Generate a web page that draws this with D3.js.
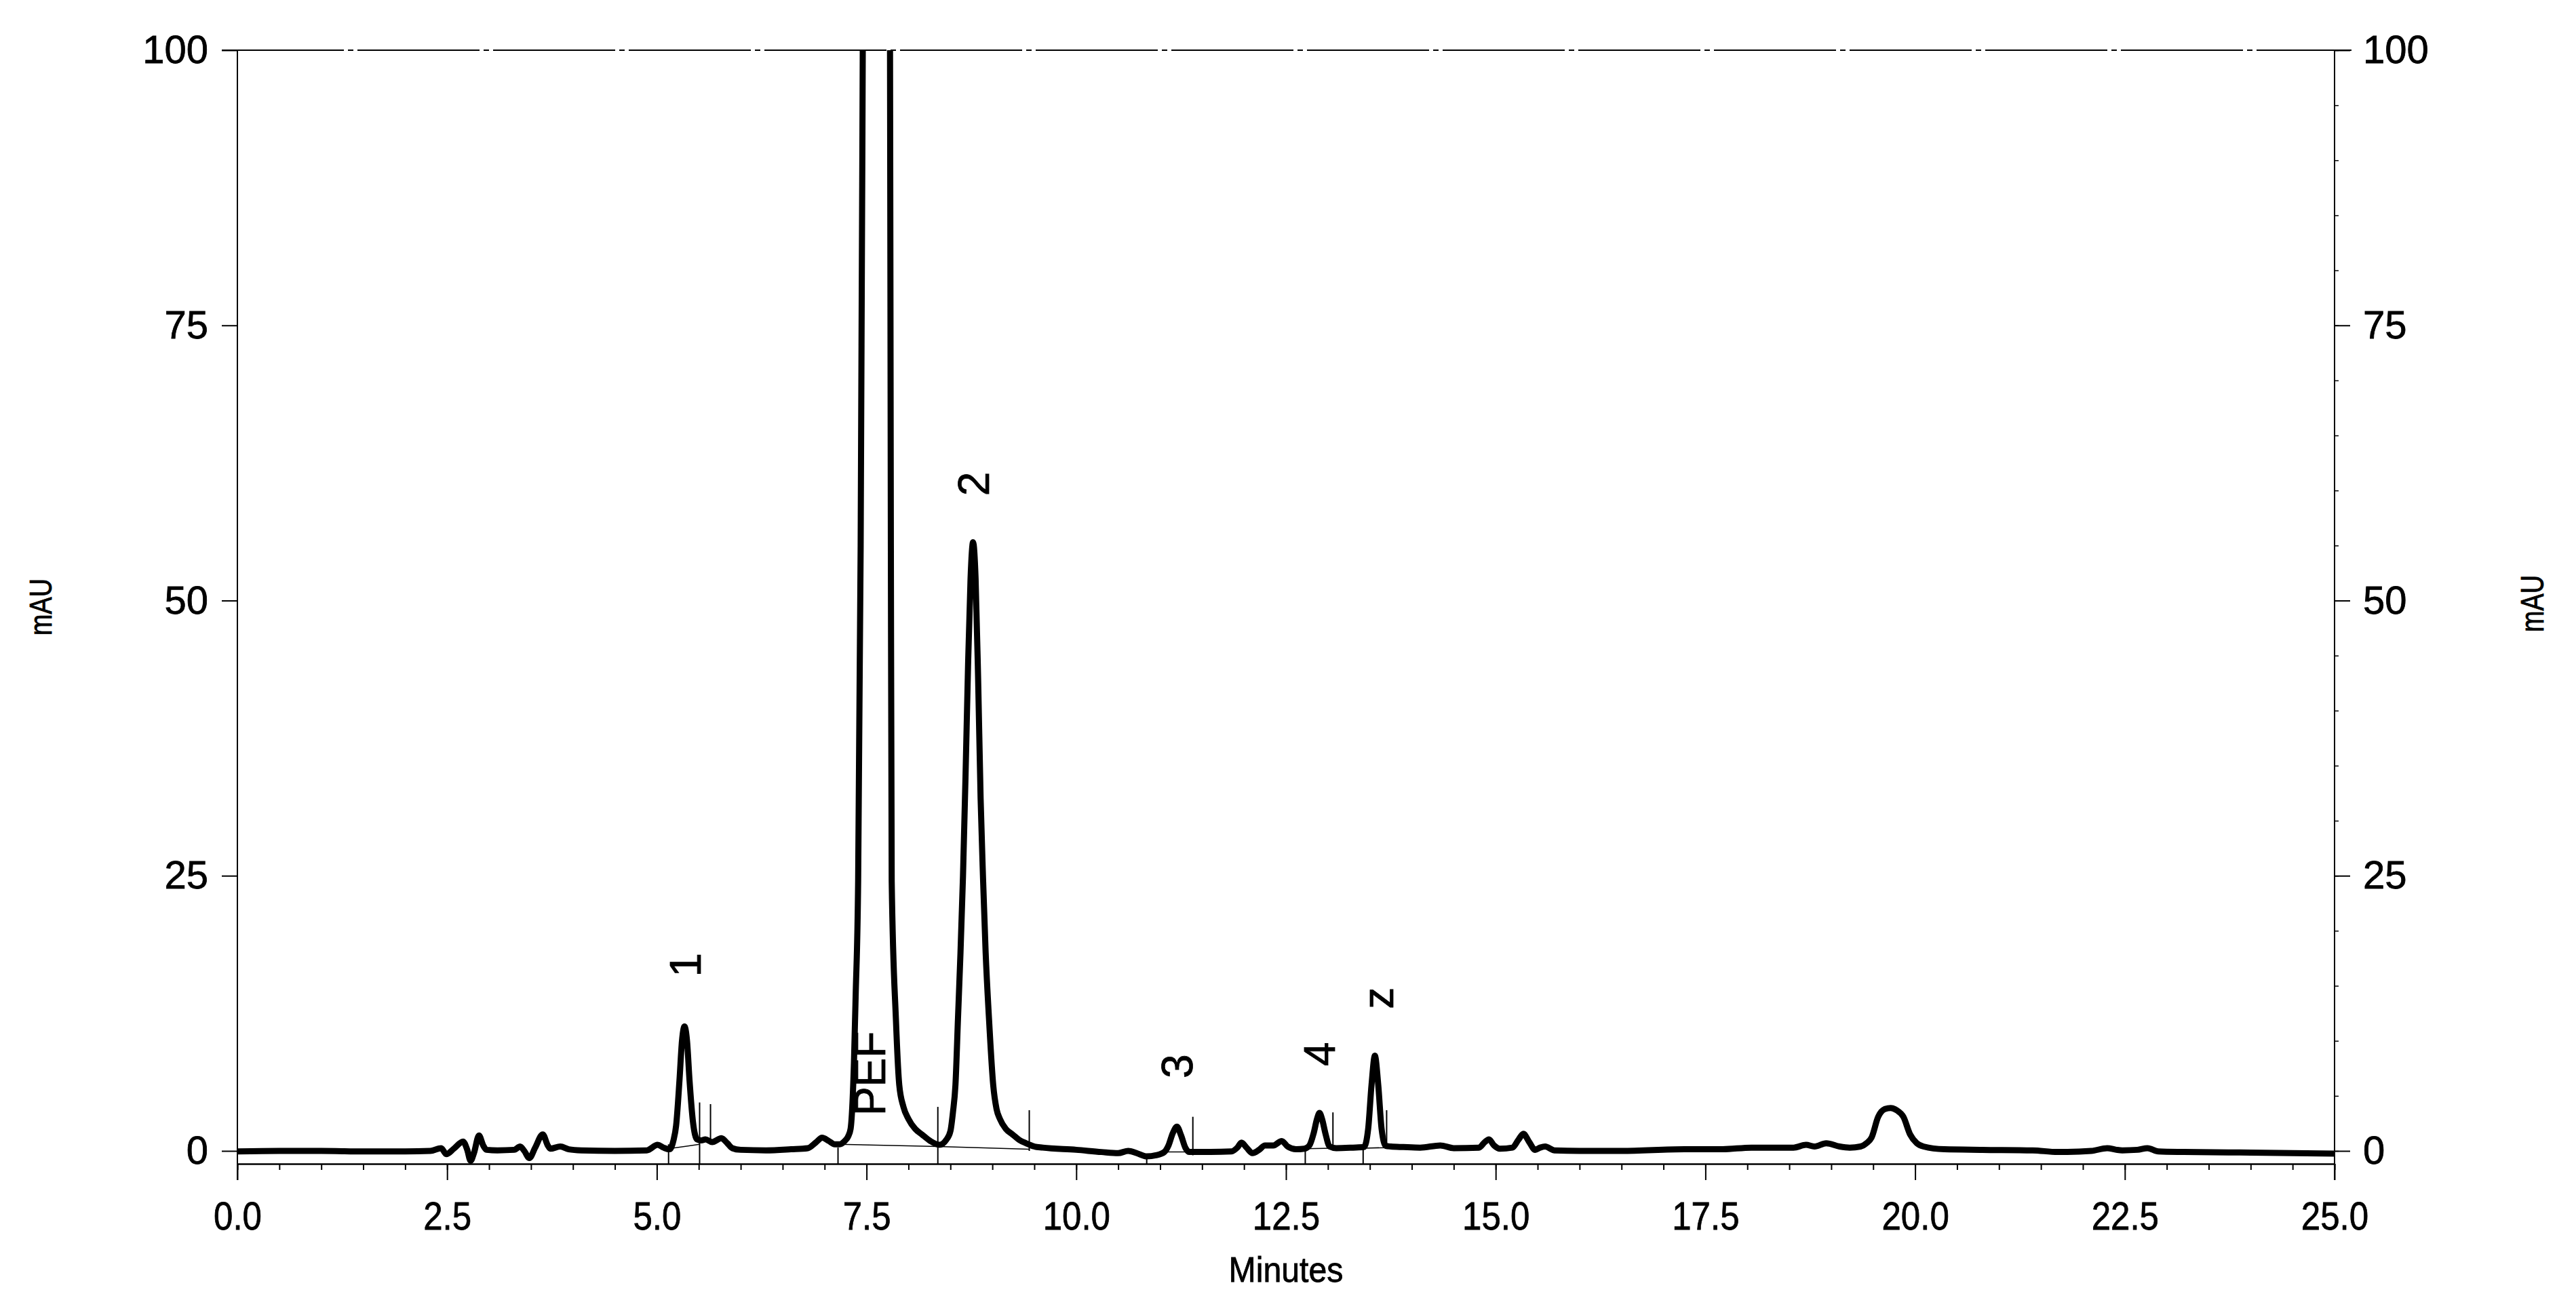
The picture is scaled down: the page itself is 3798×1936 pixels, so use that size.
<!DOCTYPE html>
<html>
<head>
<meta charset="utf-8">
<script src="https://cdn.jsdelivr.net/npm/d3@7/dist/d3.min.js"></script>
<style>
  html, body { margin: 0; padding: 0; background: #ffffff; }
  svg { display: block; }
  text { font-family: "Liberation Sans", Arial, "DejaVu Sans", sans-serif; fill: #000; stroke: #000; stroke-width: 0.8px; }
</style>
</head>
<body>
<script>
// ---- Data ----
const times = [
  0.00, 0.50, 1.00, 1.50, 2.00, 2.30, 2.43, 2.49, 2.58, 2.69, 2.74, 2.78, 2.82, 2.88, 2.93, 2.97,
  3.10, 3.30, 3.37, 3.42, 3.48, 3.55, 3.64, 3.70, 3.73, 3.85, 3.95, 4.10, 4.50, 4.88, 5.01, 5.08,
  5.15, 5.20, 5.23, 5.27, 5.30, 5.33, 5.36, 5.39, 5.43, 5.48, 5.53, 5.58, 5.66, 5.77, 5.84, 5.90,
  6.00, 6.30, 6.60, 6.80, 6.90, 6.97, 7.05, 7.12, 7.18, 7.24, 7.28, 7.31, 7.33, 7.35, 7.37, 7.40,
  7.43, 7.455, 7.47, 7.50, 7.55, 7.62, 7.69, 7.74, 7.765, 7.78, 7.79, 7.80, 7.85, 7.89, 7.94, 8.00,
  8.08, 8.16, 8.26, 8.37, 8.45, 8.50, 8.53, 8.56, 8.59, 8.62, 8.65, 8.68, 8.71, 8.74, 8.77, 8.80,
  8.83, 8.86, 8.89, 8.92, 8.96, 9.01, 9.05, 9.09, 9.16, 9.24, 9.32, 9.40, 9.50, 9.60, 10.00, 10.30,
  10.50, 10.62, 10.72, 10.84, 10.95, 11.05, 11.10, 11.15, 11.20, 11.25, 11.30, 11.35, 11.60, 11.85, 11.92, 11.97,
  12.03, 12.10, 12.18, 12.25, 12.35, 12.45, 12.52, 12.62, 12.72, 12.78, 12.83, 12.87, 12.90, 12.93, 12.97, 13.02,
  13.10, 13.30, 13.43, 13.48, 13.52, 13.56, 13.60, 13.64, 13.69, 13.75, 13.90, 14.10, 14.34, 14.50, 14.80, 14.87,
  14.92, 14.98, 15.05, 15.20, 15.27, 15.33, 15.40, 15.47, 15.53, 15.59, 15.70, 16.00, 16.50, 17.25, 17.70, 18.05,
  18.40, 18.55, 18.70, 18.80, 18.94, 19.10, 19.22, 19.35, 19.42, 19.48, 19.56, 19.64, 19.71, 19.78, 19.86, 19.94,
  20.02, 20.10, 20.35, 20.80, 21.40, 21.70, 22.10, 22.29, 22.40, 22.47, 22.65, 22.77, 22.90, 23.20, 24.00, 25.00
];
const signal = [
  -0.05, 0.00, 0.00, -0.05, -0.05, 0.00, 0.25, -0.30, 0.20, 0.85, 0.10, -0.90, -0.20, 1.40, 0.50, 0.10,
  0.05, 0.10, 0.40, 0.00, -0.65, 0.30, 1.50, 0.50, 0.20, 0.40, 0.15, 0.05, 0.00, 0.05, 0.55, 0.30,
  0.15, 1.00, 2.30, 6.40, 10.0, 11.3, 10.0, 6.40, 2.70, 1.05, 0.95, 1.05, 0.80, 1.15, 0.70, 0.25,
  0.10, 0.05, 0.15, 0.25, 0.80, 1.20, 0.90, 0.60, 0.60, 0.90, 1.30, 2.00, 4.00, 8.00, 14.0, 24.5,
  55.0, 100, 130, 200, 320, 380, 320, 200, 130, 100, 55.0, 24.5, 12.0, 6.00, 4.00, 2.90,
  2.00, 1.50, 0.90, 0.55, 1.00, 1.80, 3.50, 6.00, 12.0, 18.0, 25.0, 34.0, 44.0, 52.0, 55.3, 52.0,
  43.0, 32.0, 24.5, 18.0, 12.0, 6.00, 3.80, 2.90, 2.00, 1.50, 1.00, 0.70, 0.40, 0.30, 0.10, -0.10,
  -0.20, 0.00, -0.20, -0.50, -0.40, -0.10, 0.50, 1.60, 2.20, 1.40, 0.30, -0.10, -0.10, -0.05, 0.30, 0.75,
  0.30, -0.20, 0.10, 0.50, 0.50, 0.90, 0.40, 0.15, 0.20, 0.50, 1.60, 2.90, 3.45, 2.90, 1.60, 0.40,
  0.25, 0.30, 0.35, 2.00, 6.00, 8.65, 6.00, 2.00, 0.45, 0.40, 0.35, 0.30, 0.50, 0.25, 0.30, 0.80,
  1.05, 0.50, 0.20, 0.30, 1.00, 1.55, 0.80, 0.10, 0.30, 0.40, 0.05, 0.00, 0.00, 0.15, 0.15, 0.30,
  0.30, 0.30, 0.55, 0.40, 0.70, 0.40, 0.30, 0.40, 0.70, 1.20, 3.10, 3.80, 3.90, 3.70, 3.10, 1.50,
  0.70, 0.40, 0.15, 0.10, 0.05, -0.10, 0.00, 0.25, 0.10, 0.05, 0.10, 0.25, -0.05, -0.10, -0.15, -0.25
];

// peak annotations
const peakNames = ["1", "PEF", "2", "3", "4", "z"];
const peakTimes = [5.34, 7.54, 8.78, 11.20, 12.90, 13.60];
const peakLabelLevels = [15.8, 3.2, 59.5, 6.6, 7.7, 12.9];

// integration event markers: time, low, high (mAU)
const markerTimes = [5.14, 5.51, 5.64, 7.16, 8.35, 9.44, 10.84, 11.39, 12.73, 13.06, 13.42, 13.70];
const markerLow  = [-1.2, -1.2, 0.55, -1.2, -1.2, 0.0, -1.2, -0.4, -1.2, 0.25, -1.2, 0.4];
const markerHigh = [0.6, 4.4, 4.25, 0.3, 4.0, 3.7, -0.6, 3.1, 0.25, 3.5, 0.25, 3.7];

// integration baselines: [t1, v1] -> [t2, v2]
const baseT1 = [5.14, 7.16, 8.35, 11.08, 12.73, 13.42];
const baseV1 = [0.2, 0.6, 0.4, -0.1, 0.2, 0.25];
const baseT2 = [5.51, 8.35, 9.44, 11.39, 13.06, 13.70];
const baseV2 = [0.6, 0.4, 0.15, -0.1, 0.25, 0.3];

const xTicks = [0, 2.5, 5, 7.5, 10, 12.5, 15, 17.5, 20, 22.5, 25];
const xMinorTicks = d3.range(0, 25.001, 0.5).map(d => +d.toFixed(1));
const yTicks = [0, 25, 50, 75, 100];
const yMinorTicks = d3.range(0, 100.001, 5);
const xTitle = "Minutes";
const yTitle = "mAU";

// ---- Layout ----
const W = 3798, H = 1936;
const mLeft = 350, mRight = 3442, mTop = 74, zeroY = 1697, axisY = 1716;

const svg = d3.select("body").append("svg").attr("width", W).attr("height", H);
svg.append("rect").attr("width", W).attr("height", H).attr("fill", "#fff");

const x = d3.scaleLinear().domain([0, 25]).range([mLeft, mRight]);
const y = d3.scaleLinear().domain([0, 100]).range([zeroY, mTop]);

// clip
svg.append("defs").append("clipPath").attr("id", "plotclip")
  .append("rect").attr("x", mLeft).attr("y", mTop).attr("width", mRight - mLeft).attr("height", axisY - mTop + 10);

// frame lines
svg.append("line").attr("x1", mLeft - 23).attr("x2", mRight + 25).attr("y1", mTop).attr("y2", mTop)
  .attr("stroke", "#000").attr("stroke-width", 2).attr("stroke-dasharray", "180,6,8,6");
svg.append("line").attr("x1", mLeft).attr("x2", mLeft).attr("y1", mTop).attr("y2", axisY + 24)
  .attr("stroke", "#000").attr("stroke-width", 2);
svg.append("line").attr("x1", mRight).attr("x2", mRight).attr("y1", mTop).attr("y2", axisY + 24)
  .attr("stroke", "#000").attr("stroke-width", 2);

// x axis (minor ticks)
const xMinor = svg.append("g").attr("transform", `translate(0,${axisY})`)
  .call(d3.axisBottom(x).tickValues(xMinorTicks).tickSize(9).tickSizeOuter(0).tickFormat(""));
xMinor.select(".domain").attr("stroke-width", 2.5);
xMinor.selectAll(".tick line").attr("stroke-width", 2);

// x axis major
const xAx = svg.append("g").attr("transform", `translate(0,${axisY})`)
  .call(d3.axisBottom(x).tickValues(xTicks).tickSize(24).tickSizeOuter(0).tickPadding(32)
    .tickFormat(d3.format(".1f")));
xAx.select(".domain").remove();
xAx.selectAll(".tick line").attr("stroke-width", 2);
xAx.selectAll(".tick text").attr("font-size", 58).attr("transform", "scale(0.88,1)")
  .style("font-family", '"Liberation Sans", Arial, sans-serif');

// left y axis
const yL = svg.append("g").attr("transform", `translate(${mLeft},0)`)
  .call(d3.axisLeft(y).tickValues(yTicks).tickSize(23).tickPadding(20));
yL.select(".domain").remove();
yL.selectAll(".tick line").attr("stroke-width", 2);
yL.selectAll(".tick text").attr("font-size", 58);

// right y axis
const yRm = svg.append("g").attr("transform", `translate(${mRight},0)`)
  .call(d3.axisRight(y).tickValues(yMinorTicks).tickSize(6).tickFormat(""));
yRm.select(".domain").remove();
yRm.selectAll(".tick line").attr("stroke-width", 1.5);
const yR = svg.append("g").attr("transform", `translate(${mRight},0)`)
  .call(d3.axisRight(y).tickValues(yTicks).tickSize(23).tickPadding(19));
yR.select(".domain").remove();
yR.selectAll(".tick line").attr("stroke-width", 2);
yR.selectAll(".tick text").attr("font-size", 58);

// axis titles
svg.append("text").attr("x", (mLeft + mRight) / 2).attr("y", 1890).attr("text-anchor", "middle")
  .attr("font-size", 52).attr("textLength", 169).attr("lengthAdjust", "spacingAndGlyphs").text(xTitle);
svg.append("text").attr("transform", `translate(60,895) rotate(-90)`).attr("text-anchor", "middle")
  .attr("dy", "0.35em").attr("font-size", 46).attr("textLength", 84).attr("lengthAdjust", "spacingAndGlyphs").text(yTitle);
svg.append("text").attr("transform", `translate(3733,890) rotate(-90)`).attr("text-anchor", "middle")
  .attr("dy", "0.35em").attr("font-size", 48).attr("textLength", 84).attr("lengthAdjust", "spacingAndGlyphs").text(yTitle);

// integration baselines & markers
const plotG = svg.append("g").attr("clip-path", "url(#plotclip)");
plotG.selectAll("line.base").data(baseT1).join("line").attr("class", "base")
  .attr("x1", (d, i) => x(baseT1[i])).attr("y1", (d, i) => y(baseV1[i]))
  .attr("x2", (d, i) => x(baseT2[i])).attr("y2", (d, i) => y(baseV2[i]))
  .attr("stroke", "#000").attr("stroke-width", 1.5);
plotG.selectAll("line.mark").data(markerTimes).join("line").attr("class", "mark")
  .attr("x1", d => x(d)).attr("x2", d => x(d))
  .attr("y1", (d, i) => y(markerLow[i])).attr("y2", (d, i) => y(markerHigh[i]))
  .attr("stroke", "#000").attr("stroke-width", 2);

// trace
const pts = times.map((t, i) => [t, signal[i]]);
const line = d3.line().x(d => x(d[0])).y(d => y(d[1])).curve(d3.curveMonotoneX);
plotG.append("path").datum(pts).attr("d", line)
  .attr("fill", "none").attr("stroke", "#000").attr("stroke-width", 9).attr("stroke-linejoin", "round");

// peak labels
svg.selectAll("text.peak").data(peakNames).join("text").attr("class", "peak")
  .attr("transform", (d, i) => `translate(${x(peakTimes[i])},${y(peakLabelLevels[i])}) rotate(-90)`)
  .attr("dy", "0.35em").attr("text-anchor", "start").attr("font-size", 64).text(d => d);
</script>
</body>
</html>
